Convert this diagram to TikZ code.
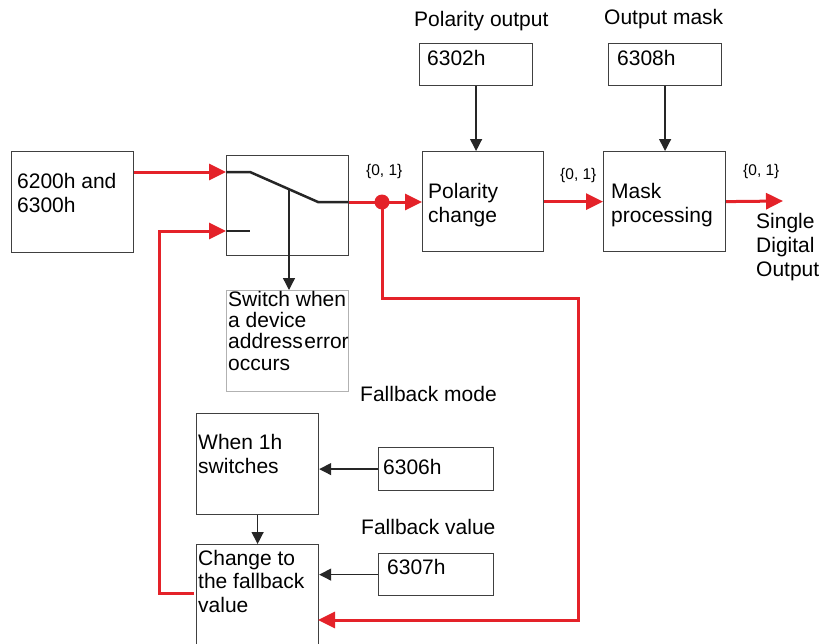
\documentclass[tikz,border=0pt]{standalone}
\usepackage{fontspec}
\setmainfont{Liberation Sans}
\usepackage{xcolor}
\definecolor{sigred}{HTML}{E42229}
\definecolor{edge}{HTML}{404040}
\usetikzlibrary{arrows.meta}
\tikzset{
  blk/.style={draw=edge, line width=1.2pt, inner sep=0, anchor=north west},
  lbl/.style={font=\fontsize{21}{24}\selectfont, inner sep=0, align=left, anchor=base west},
  sml/.style={font=\fontsize{15.5}{18}\selectfont, inner sep=0, anchor=base west},
  sig/.style={draw=sigred, line width=3pt, -{Triangle[length=17pt,width=16pt]}},
  ctl/.style={draw=black!85, line width=1.3pt, -{Triangle[length=12pt,width=12pt]}},
}
\begin{document}
\begin{tikzpicture}[x=1pt, y=-1pt]
            \useasboundingbox (0,0) rectangle (822,643);

            % input and switch (multi-line texts sit on their last baseline)
            \node[blk, minimum width=122, minimum height=101] (inp) at (11,151) {};
            \node[lbl] (inptxt) at (17,212) {6200h and\\6300h};
            \node[blk, minimum width=122, minimum height=100] (sw) at (226,155) {};
            \node[blk, draw=black!30, minimum width=122, minimum height=101] (swt) at (226,290) {};
            \node[lbl, font=\fontsize{21}{21.3}\selectfont] (swttxt) at (228,370) {Switch when\\a device\\address\kern1.5pt error\\occurs};

            \coordinate (in1) at (226,172);
            \coordinate (in2) at (226,231);
            \coordinate (pivot) at (289,189);
            \draw[line width=2.5pt, black!85] (in1) -- (250,172) -- (318,202) -- (348,202);
            \draw[line width=2.5pt, black!85] (in2) -- (250,231);
            \draw[ctl] (pivot) -- (pivot |- swt.north);

            % polarity and mask
            \node[lbl] (poltitle) at (414,26) {Polarity output};
            \node[blk, minimum width=113, minimum height=42] (p02) at (419,43) {};
            \node[lbl] (p02txt) at (427,65) {6302h};
            \node[blk, minimum width=121, minimum height=100] (pol) at (422,151) {};
            \node[lbl] (poltxt) at (428,222) {Polarity\\change};

            \node[lbl] (msktitle) at (604,24) {Output mask};
            \node[blk, minimum width=113, minimum height=42] (m08) at (608,43) {};
            \node[lbl] (m08txt) at (617,65) {6308h};
            \node[blk, minimum width=122, minimum height=100] (msk) at (603,151) {};
            \node[lbl] (msktxt) at (611,222) {Mask\\processing};

            \node[sml] (v1) at (366,175) {\{0, 1\}};
            \node[sml] (v2) at (560,179) {\{0, 1\}};
            \node[sml] (v3) at (743,175) {\{0, 1\}};
            \node[lbl] (outtxt) at (756,276) {Single\\Digital\\Output};

            \draw[ctl] (p02.south) -- (p02.south |- pol.north);
            \draw[ctl] (m08.south) -- (m08.south |- msk.north);

            % fallback
            \node[lbl] (fbmode) at (360,401) {Fallback mode};
            \node[blk, minimum width=122, minimum height=101] (whn) at (196,413) {};
            \node[lbl] (whntxt) at (198,473) {When 1h\\switches};
            \node[blk, minimum width=115, minimum height=43] (f06) at (378,447) {};
            \node[lbl] (f06txt) at (383,474) {6306h};

            \node[lbl] (fbval) at (361,534) {Fallback value};
            \node[blk, minimum width=122, minimum height=104] (chg) at (196,544) {};
            \node[lbl, font=\fontsize{21}{23.5}\selectfont] (chgtxt) at (198,612) {Change to\\the fallback\\value};
            \node[blk, minimum width=115, minimum height=42] (f07) at (378,553) {};
            \node[lbl] (f07txt) at (387,574) {6307h};

            \draw[ctl] (f06.west) -- (f06.west -| whn.east);
            \draw[ctl] (f07.west) -- (f07.west -| chg.east);
            \draw[ctl] (whn.south) -- (chg.north);

            % red signal path
            \coordinate (tap) at (382,202);
            \coordinate (fb) at (578,298);
            \coordinate (fbin) at (318,620);
            \coordinate (lp) at (194,593);
            \coordinate (out) at (783,201);
            \draw[sig] (in1 -| inp.east) -- (in1);
            \draw[sig] (lp) -| ([xshift=-67]in2) -- (in2);
            \draw[sig] (tap -| sw.east) -- (tap -| pol.west);
            \draw[sig] (tap) |- (fb) |- (fbin);
            \draw[sig] (pol.east) -- (msk.west);
            \draw[sig] (msk.east) -- (out);
            \fill[sigred] (tap) circle (7.5);

          \end{tikzpicture}
\end{document}
